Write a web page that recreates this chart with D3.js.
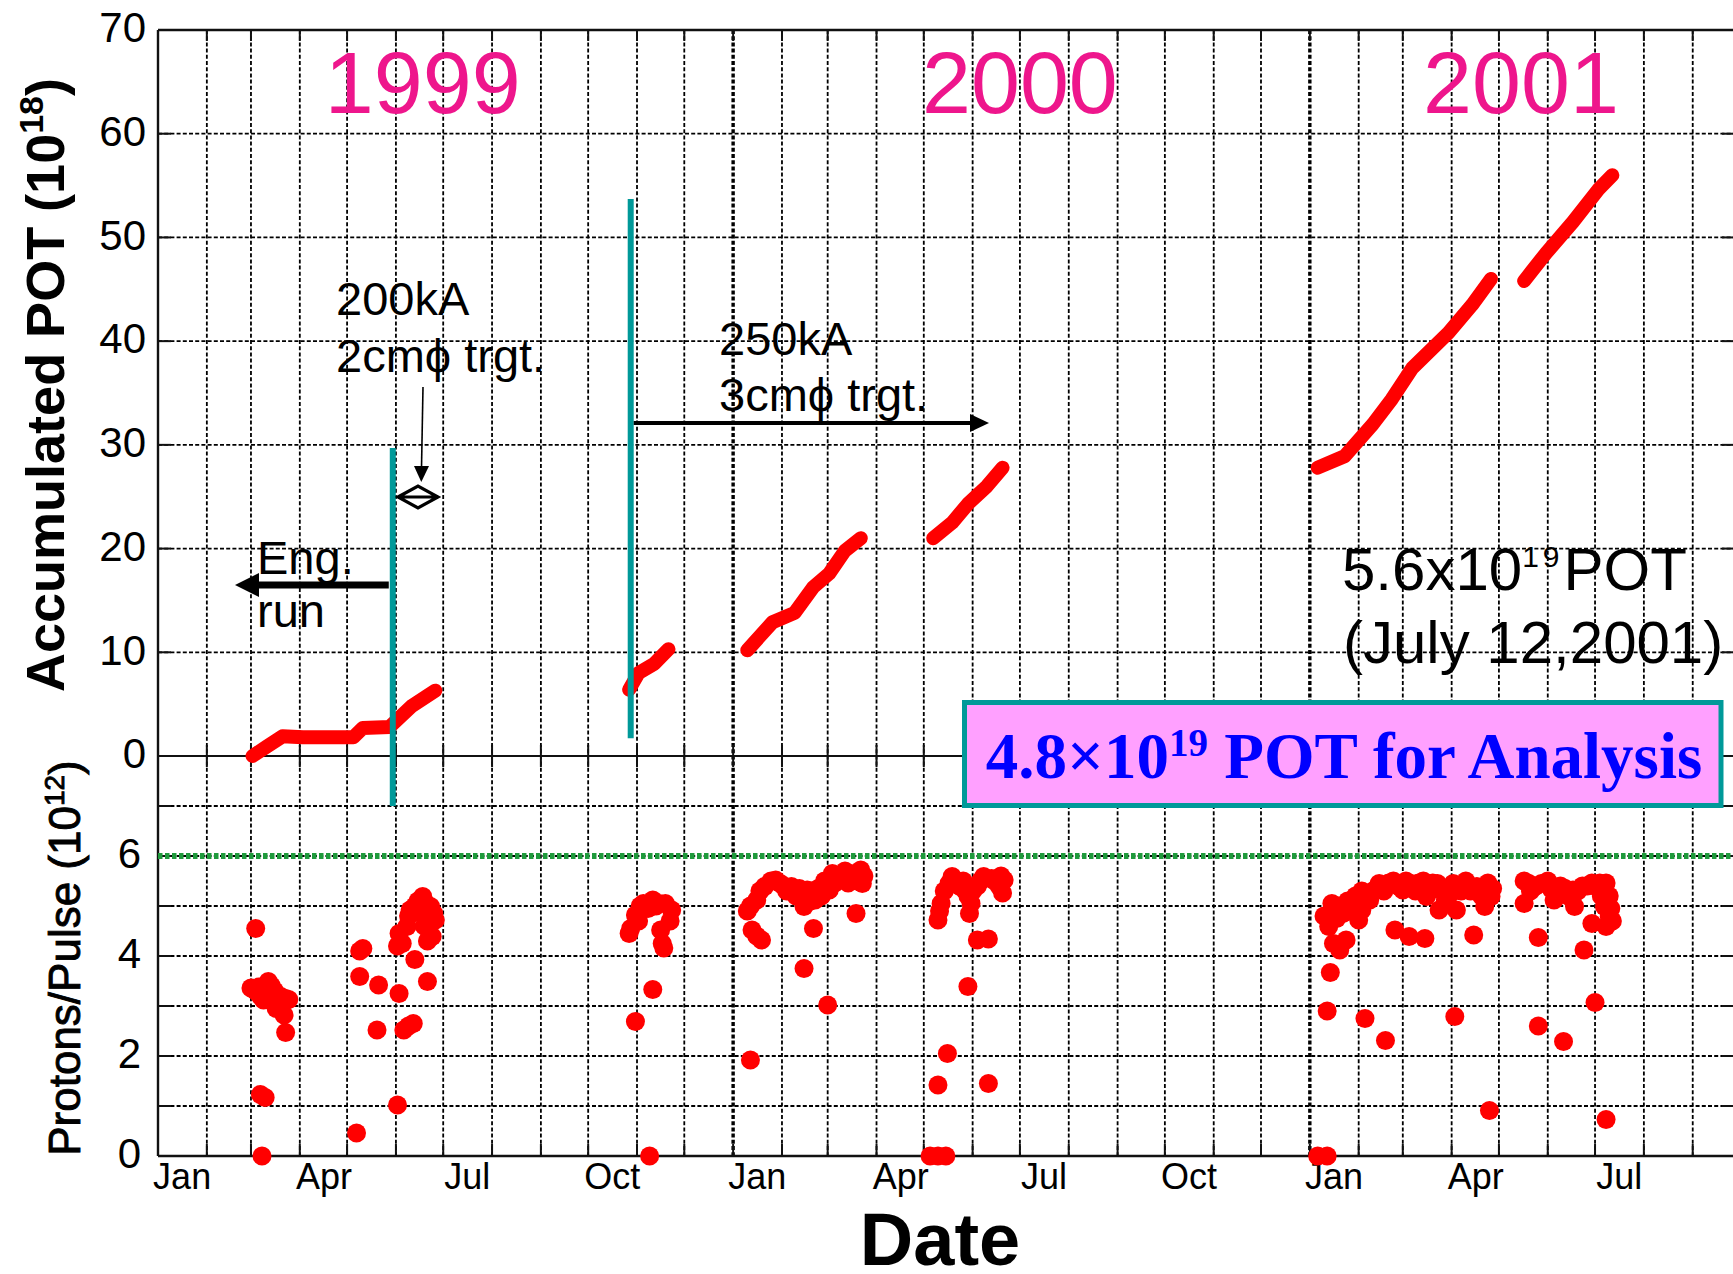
<!DOCTYPE html>
<html>
<head>
<meta charset="utf-8">
<script src="https://cdn.jsdelivr.net/npm/d3@7"></script>
<style>
  body { margin: 0; background: #fff; }
  svg { display: block; }
</style>
</head>
<body>
<svg id="chart" width="1733" height="1274"></svg>
<script>
// ---- Accumulated protons on target (10^18), one array per beam period ----
const potRun1999a = [
  ["1999-03-02", 0.0], ["1999-03-11", 0.9], ["1999-03-21", 1.9], ["1999-04-03", 1.8],
  ["1999-04-20", 1.8], ["1999-05-05", 1.8], ["1999-05-11", 2.7], ["1999-05-28", 2.8],
  ["1999-06-11", 4.8], ["1999-06-26", 6.3]
];
const potRun1999b = [
  ["1999-10-27", 6.4], ["1999-11-02", 8.0], ["1999-11-12", 8.9], ["1999-11-21", 10.3]
];
const potRun2000a = [
  ["2000-01-10", 10.2], ["2000-01-26", 12.9], ["2000-02-09", 13.8], ["2000-02-21", 16.3],
  ["2000-03-02", 17.6], ["2000-03-12", 19.8], ["2000-03-22", 21.0]
];
const potRun2000b = [
  ["2000-05-07", 21.0], ["2000-05-19", 22.5], ["2000-05-29", 24.3], ["2000-06-10", 26.0],
  ["2000-06-20", 27.8]
];
const potRun2001a = [
  ["2001-01-06", 27.8], ["2001-01-23", 28.9], ["2001-02-10", 32.0], ["2001-02-22", 34.4],
  ["2001-03-07", 37.4], ["2001-03-30", 40.8], ["2001-04-14", 43.5], ["2001-04-26", 46.0]
];
const potRun2001b = [
  ["2001-05-17", 45.8], ["2001-05-31", 48.5], ["2001-06-17", 51.5], ["2001-07-03", 54.6],
  ["2001-07-12", 56.0]
];

// ---- Protons per pulse (10^12) ----
const pulsesSpring1999 = [
  ["1999-03-04", 4.55], ["1999-03-08", 0.0], ["1999-03-07", 1.23], ["1999-03-10", 1.17],
  ["1999-03-01", 3.36], ["1999-03-06", 3.38], ["1999-03-12", 3.49], ["1999-03-11", 3.25],
  ["1999-03-07", 3.2], ["1999-03-09", 3.12], ["1999-03-16", 3.3], ["1999-03-20", 3.19],
  ["1999-03-23", 3.15], ["1999-03-25", 3.13], ["1999-03-19", 3.0], ["1999-03-17", 2.95],
  ["1999-03-22", 2.82], ["1999-03-23", 2.47], ["1999-03-14", 3.4], ["1999-03-04", 3.3],
  ["1999-05-09", 4.1], ["1999-05-11", 4.15], ["1999-05-09", 3.59], ["1999-05-21", 3.42],
  ["1999-05-07", 0.46], ["1999-05-20", 2.52], ["1999-06-03", 3.25], ["1999-06-02", 1.02],
  ["1999-06-06", 2.52], ["1999-06-09", 2.6], ["1999-06-12", 2.65], ["1999-06-13", 3.93],
  ["1999-06-21", 3.49],
  ["1999-06-02", 4.2], ["1999-06-03", 4.45], ["1999-06-05", 4.25], ["1999-06-08", 4.59],
  ["1999-06-09", 4.8], ["1999-06-10", 4.92], ["1999-06-13", 5.0], ["1999-06-16", 4.87],
  ["1999-06-18", 5.19], ["1999-06-19", 4.6], ["1999-06-21", 4.3], ["1999-06-23", 4.99],
  ["1999-06-24", 4.39], ["1999-06-26", 4.72], ["1999-06-25", 4.85], ["1999-06-15", 5.1],
  ["1999-06-20", 5.05]
];
const pulsesFall1999 = [
  ["1999-10-28", 4.55], ["1999-10-27", 4.45], ["1999-10-31", 4.82], ["1999-11-02", 4.7],
  ["1999-11-05", 5.05], ["1999-11-08", 4.95], ["1999-11-11", 5.12], ["1999-11-15", 5.05],
  ["1999-11-19", 5.05], ["1999-11-23", 4.92], ["1999-11-22", 4.7], ["1999-11-16", 4.52],
  ["1999-11-17", 4.25], ["1999-11-18", 4.16], ["1999-11-11", 3.33], ["1999-10-31", 2.69],
  ["1999-11-09", 0.0], ["1999-11-03", 5.0], ["1999-11-13", 5.0]
];
const pulses2000 = [
  ["2000-01-12", 1.92], ["2000-01-13", 4.52], ["2000-01-16", 4.4], ["2000-01-19", 4.32],
  ["2000-01-12", 5.0], ["2000-01-16", 5.12], ["2000-01-21", 5.39], ["2000-01-25", 5.5],
  ["2000-01-28", 5.52], ["2000-02-02", 5.4], ["2000-02-07", 5.39], ["2000-02-12", 5.35],
  ["2000-02-17", 5.32], ["2000-02-15", 4.99], ["2000-02-19", 5.1], ["2000-02-22", 5.12],
  ["2000-02-26", 5.2], ["2000-03-02", 5.32], ["2000-03-05", 5.45], ["2000-03-09", 5.59],
  ["2000-03-14", 5.46], ["2000-03-18", 5.65], ["2000-03-22", 5.72], ["2000-03-24", 5.6],
  ["2000-03-19", 4.85], ["2000-02-21", 4.55], ["2000-02-15", 3.75], ["2000-03-01", 3.02],
  ["2000-01-10", 4.9], ["2000-01-18", 5.3], ["2000-01-31", 5.45], ["2000-02-04", 5.3],
  ["2000-02-10", 5.2], ["2000-02-14", 5.2], ["2000-02-20", 5.3], ["2000-02-24", 5.35],
  ["2000-02-28", 5.5], ["2000-03-04", 5.65], ["2000-03-07", 5.5], ["2000-03-12", 5.7],
  ["2000-03-16", 5.55], ["2000-03-20", 5.5], ["2000-03-23", 5.45],
  ["2000-05-05", 0.0], ["2000-05-10", 0.0], ["2000-05-15", 0.0], ["2000-05-10", 1.42],
  ["2000-05-16", 2.05], ["2000-05-29", 3.39], ["2000-06-11", 1.45],
  ["2000-05-10", 4.72], ["2000-05-11", 4.9], ["2000-05-12", 5.05], ["2000-05-17", 5.45],
  ["2000-05-19", 5.59], ["2000-05-24", 5.39], ["2000-05-27", 5.32], ["2000-05-31", 5.05],
  ["2000-05-30", 4.85], ["2000-06-04", 5.4], ["2000-06-08", 5.59], ["2000-06-13", 5.55],
  ["2000-06-18", 5.39], ["2000-06-21", 5.52], ["2000-06-20", 5.26], ["2000-06-04", 4.32],
  ["2000-06-11", 4.34], ["2000-05-14", 5.3], ["2000-05-21", 5.5], ["2000-05-26", 5.5],
  ["2000-05-29", 5.2], ["2000-06-01", 5.3], ["2000-06-06", 5.5], ["2000-06-15", 5.5],
  ["2000-06-19", 5.6]
];
const pulses2001 = [
  ["2001-01-06", 0.0], ["2001-01-12", 0.0], ["2001-01-12", 2.9], ["2001-01-14", 3.67],
  ["2001-01-20", 4.12], ["2001-01-16", 4.25], ["2001-01-24", 4.32], ["2001-02-05", 2.75],
  ["2001-02-18", 2.31], ["2001-04-03", 2.79], ["2001-04-25", 0.91], ["2001-04-15", 4.42],
  ["2001-02-24", 4.52], ["2001-03-05", 4.39], ["2001-03-15", 4.35], ["2001-05-26", 4.37],
  ["2001-05-26", 2.6], ["2001-06-11", 2.29], ["2001-06-24", 4.12], ["2001-07-01", 3.07],
  ["2001-07-08", 0.73],
  ["2001-01-13", 4.59], ["2001-01-15", 5.05], ["2001-01-18", 4.75], ["2001-01-22", 4.85],
  ["2001-01-28", 4.99], ["2001-02-01", 4.72], ["2001-02-05", 5.19], ["2001-02-03", 4.92],
  ["2001-02-11", 5.32], ["2001-02-08", 5.12], ["2001-02-20", 5.46], ["2001-02-26", 5.4],
  ["2001-03-01", 5.32], ["2001-03-06", 5.45], ["2001-03-11", 5.46], ["2001-03-20", 5.46],
  ["2001-03-16", 5.19], ["2001-03-28", 5.12], ["2001-03-24", 4.92], ["2001-04-04", 4.92],
  ["2001-04-10", 5.5], ["2001-04-07", 5.3], ["2001-04-17", 5.39], ["2001-04-24", 5.46],
  ["2001-04-22", 4.99], ["2001-04-26", 5.19],
  ["2001-01-10", 4.8], ["2001-01-19", 5.0], ["2001-01-25", 5.1], ["2001-01-30", 5.2],
  ["2001-02-03", 5.3], ["2001-02-14", 5.45], ["2001-02-17", 5.3], ["2001-02-23", 5.5],
  ["2001-03-03", 5.5], ["2001-03-09", 5.3], ["2001-03-14", 5.5], ["2001-03-18", 5.3],
  ["2001-03-23", 5.45], ["2001-03-26", 5.3], ["2001-03-31", 5.25], ["2001-04-02", 5.45],
  ["2001-04-13", 5.3], ["2001-04-20", 5.2], ["2001-04-27", 5.35],
  ["2001-05-17", 5.5], ["2001-05-17", 5.05], ["2001-05-24", 5.39], ["2001-05-28", 5.45],
  ["2001-06-01", 5.5], ["2001-06-07", 5.26], ["2001-06-05", 5.12], ["2001-06-12", 5.35],
  ["2001-06-17", 5.32], ["2001-06-18", 4.99], ["2001-06-23", 5.4], ["2001-06-29", 5.46],
  ["2001-07-04", 5.46], ["2001-07-08", 5.46], ["2001-07-07", 4.99], ["2001-07-10", 4.79],
  ["2001-06-29", 4.65], ["2001-07-08", 4.59], ["2001-07-10", 5.2],
  ["2001-05-20", 5.45], ["2001-05-21", 5.3], ["2001-06-03", 5.35], ["2001-06-09", 5.4],
  ["2001-06-14", 5.2], ["2001-06-20", 5.3], ["2001-06-26", 5.4], ["2001-07-01", 5.4],
  ["2001-07-05", 5.2], ["2001-07-11", 4.95], ["2001-07-12", 4.7]
];

// ---- axis ticks and labels ----
const potTicks = [0, 10, 20, 30, 40, 50, 60, 70];
const pulseTicks = [0, 2, 4, 6];
const pulseGrid = [1, 2, 3, 4, 5, 6, 7];
const monthLabels = ["Jan", "Apr", "Jul", "Oct"];
const yearLabels = [["1999", "1999-06-18"], ["2000", "2000-07-01"], ["2001", "2001-05-15"]];
const designIntensity = 6;               // 10^12 protons/pulse
const horn200kA = "1999-05-30";          // horn current / target change
const horn250kA = "1999-10-28";

// ---------------------------------------------------------------
const parse = d3.utcParse("%Y-%m-%d");
const svg = d3.select("#chart");
const SANS = "'Liberation Sans', Arial, Helvetica, sans-serif";
const SERIF = "'Liberation Serif', 'Times New Roman', serif";

const plotLeft = 158, plotTop = 30, plotMid = 756, plotBottom = 1156, plotRight = 1740;

const x = d3.scaleUtc()
  .domain([parse("1999-01-01"), parse("2001-10-01")])
  .range([plotLeft, plotRight]);
const yPot = d3.scaleLinear().domain([0, 70]).range([plotMid, plotTop]);
const yPulse = d3.scaleLinear().domain([0, 8]).range([plotBottom, plotMid]);

// dotted grid
const months = d3.utcMonth.range(parse("1999-02-01"), parse("2001-10-01"));
const grid = svg.append("g").attr("stroke", "#000").attr("stroke-dasharray", "4,2.2");
grid.selectAll("line.v").data(months).join("line").attr("class", "v")
  .attr("x1", d => x(d)).attr("x2", d => x(d))
  .attr("y1", plotTop).attr("y2", plotBottom)
  .attr("stroke-width", d => d.getUTCMonth() === 0 ? 3.4 : 1.8);
grid.selectAll("line.hp").data(potTicks.filter(v => v > 0 && v < 70)).join("line").attr("class", "hp")
  .attr("x1", plotLeft).attr("x2", plotRight)
  .attr("y1", d => yPot(d)).attr("y2", d => yPot(d)).attr("stroke-width", 1.8);
grid.selectAll("line.hq").data(pulseGrid).join("line").attr("class", "hq")
  .attr("x1", plotLeft).attr("x2", plotRight)
  .attr("y1", d => yPulse(d)).attr("y2", d => yPulse(d)).attr("stroke-width", 1.8);

// frame and inward ticks
const frame = svg.append("g").attr("stroke", "#111").attr("fill", "none");
frame.append("line").attr("x1", plotLeft).attr("x2", plotRight).attr("y1", plotTop).attr("y2", plotTop).attr("stroke-width", 2.4);
frame.append("line").attr("x1", plotLeft).attr("x2", plotRight).attr("y1", plotMid).attr("y2", plotMid).attr("stroke-width", 2);
frame.append("line").attr("x1", plotLeft).attr("x2", plotRight).attr("y1", plotBottom).attr("y2", plotBottom).attr("stroke-width", 2.4);
frame.append("line").attr("x1", plotLeft).attr("x2", plotLeft).attr("y1", plotTop).attr("y2", plotBottom).attr("stroke-width", 2.4);
frame.append("line").attr("x1", plotRight).attr("x2", plotRight).attr("y1", plotTop).attr("y2", plotBottom).attr("stroke-width", 2.4);

const tickG = svg.append("g").attr("stroke", "#111").attr("stroke-width", 2);
months.forEach(m => {
  const xm = x(m);
  tickG.append("line").attr("x1", xm).attr("x2", xm).attr("y1", plotTop).attr("y2", plotTop + 11);
  tickG.append("line").attr("x1", xm).attr("x2", xm).attr("y1", plotMid - 11).attr("y2", plotMid + 11);
  tickG.append("line").attr("x1", xm).attr("x2", xm).attr("y1", plotBottom - 12).attr("y2", plotBottom);
});
const hTickYs = potTicks.map(v => yPot(v)).concat(pulseGrid.map(v => yPulse(v)));
hTickYs.forEach(yy => {
  tickG.append("line").attr("x1", plotLeft).attr("x2", plotLeft + 13).attr("y1", yy).attr("y2", yy);
  tickG.append("line").attr("x1", plotRight - 18).attr("x2", plotRight).attr("y1", yy).attr("y2", yy);
});

// axis labels
function styleAxis(g) {
  g.select(".domain").remove();
  g.attr("font-family", SANS).attr("font-size", 42);
  g.selectAll("text").attr("fill", "#000");
}
svg.append("g").attr("transform", `translate(${plotLeft},0)`)
  .call(d3.axisLeft(yPot).tickValues(potTicks).tickSize(0).tickPadding(12).tickFormat(d3.format("d")))
  .call(styleAxis)
  .selectAll("text").attr("dy", "0.28em");
svg.append("g").attr("transform", `translate(${plotLeft},0)`)
  .call(d3.axisLeft(yPulse).tickValues(pulseTicks).tickSize(0).tickPadding(17).tickFormat(d3.format("d")))
  .call(styleAxis)
  .selectAll("text").attr("dy", "0.28em");

const labelDates = d3.utcMonth.range(parse("1999-01-01"), parse("2001-08-01"), 3)
  .map(d => d3.utcDay.offset(d, 15));
svg.append("g").attr("transform", `translate(0,${plotBottom})`)
  .call(d3.axisBottom(x).tickValues(labelDates).tickSize(0)
    .tickFormat(d => monthLabels[Math.floor(d.getUTCMonth() / 3)]))
  .call(styleAxis)
  .call(g => g.attr("font-size", 36))
  .selectAll("text").attr("y", 33).attr("dy", 0);

// axis titles
svg.append("text")
  .attr("transform", "translate(64,385) rotate(-90)")
  .attr("text-anchor", "middle").attr("font-family", SANS)
  .attr("font-weight", "bold").attr("font-size", 54)
  .call(t => {
    t.append("tspan").text("Accumulated POT (10");
    t.append("tspan").attr("dy", -21).attr("font-size", 34).text("18");
    t.append("tspan").attr("dy", 21).text(")");
  });
svg.append("text")
  .attr("transform", "translate(80,958) rotate(-90)")
  .attr("text-anchor", "middle").attr("font-family", SANS)
  .attr("font-size", 44).attr("stroke", "#000").attr("stroke-width", 0.9)
  .call(t => {
    t.append("tspan").text("Protons/Pulse (10");
    t.append("tspan").attr("dy", -16).attr("font-size", 28).text("12");
    t.append("tspan").attr("dy", 16).text(")");
  });
svg.append("text").attr("x", 940).attr("y", 1265)
  .attr("text-anchor", "middle").attr("font-family", SANS)
  .attr("font-weight", "bold").attr("font-size", 74).text("Date");

// year labels
svg.append("g").selectAll("text").data(yearLabels).join("text")
  .attr("x", d => x(parse(d[1]))).attr("y", 113)
  .attr("text-anchor", "middle").attr("font-family", SANS)
  .attr("font-size", 88).attr("fill", "#ee168c").text(d => d[0]);

// design intensity level
svg.append("line")
  .attr("x1", plotLeft).attr("x2", plotRight)
  .attr("y1", yPulse(designIntensity)).attr("y2", yPulse(designIntensity))
  .attr("stroke", "#1f9a3c").attr("stroke-width", 6).attr("stroke-dasharray", "4.5,2.5");

// accumulated POT curves
const potLine = d3.line().x(d => x(parse(d[0]))).y(d => yPot(d[1]));
svg.append("g").attr("fill", "none").attr("stroke", "#ff0000")
  .attr("stroke-width", 14).attr("stroke-linecap", "round").attr("stroke-linejoin", "round")
  .selectAll("path")
  .data([potRun1999a, potRun1999b, potRun2000a, potRun2000b, potRun2001a, potRun2001b])
  .join("path").attr("d", potLine);

// protons per pulse
const pulses = [].concat(pulsesSpring1999, pulsesFall1999, pulses2000, pulses2001);
svg.append("g").attr("fill", "#ff0000")
  .selectAll("circle").data(pulses).join("circle")
  .attr("cx", d => x(parse(d[0]))).attr("cy", d => yPulse(d[1])).attr("r", 9.5);

// horn current change markers
svg.append("line")
  .attr("x1", x(parse(horn200kA))).attr("x2", x(parse(horn200kA)))
  .attr("y1", yPot(29.7)).attr("y2", yPulse(7))
  .attr("stroke", "#009999").attr("stroke-width", 6);
svg.append("line")
  .attr("x1", x(parse(horn250kA))).attr("x2", x(parse(horn250kA)))
  .attr("y1", yPot(53.7)).attr("y2", yPot(1.7))
  .attr("stroke", "#009999").attr("stroke-width", 6);

// annotations
const ann = svg.append("g").attr("font-family", SANS).attr("font-size", 47).attr("fill", "#000");
ann.append("text").attr("x", 336).attr("y", 315).text("200kA");
ann.append("text").attr("x", 336).attr("y", 372).text("2cmϕ trgt.");
ann.append("text").attr("x", 719).attr("y", 355).text("250kA");
ann.append("text").attr("x", 719).attr("y", 411).text("3cmϕ trgt.");
ann.append("text").attr("x", 257).attr("y", 574).text("Eng.");
ann.append("text").attr("x", 257).attr("y", 627).text("run");

// thin arrow down to the 2cm-target period
ann.append("line").attr("x1", 423).attr("y1", 387).attr("x2", 421.5).attr("y2", 468)
  .attr("stroke", "#000").attr("stroke-width", 1.6);
ann.append("path").attr("d", "M414,466 L429,466 L421.3,482 Z").attr("fill", "#000");
// open double-headed marker
ann.append("path").attr("d", "M398,497 L418,486 L438,497 L418,508 Z M398,497 L438,497")
  .attr("fill", "none").attr("stroke", "#000").attr("stroke-width", 3.2);

// engineering-run arrow (pointing left)
const hx1 = x(parse(horn200kA)) - 4;
ann.append("line").attr("x1", hx1).attr("y1", 585).attr("x2", 255).attr("y2", 585)
  .attr("stroke", "#000").attr("stroke-width", 7);
ann.append("path").attr("d", "M235,585 L259,573 L259,597 Z").attr("fill", "#000");

// 250kA period arrow (pointing right)
const hx2 = x(parse(horn250kA)) + 3;
ann.append("line").attr("x1", hx2).attr("y1", 423).attr("x2", 972).attr("y2", 423)
  .attr("stroke", "#000").attr("stroke-width", 4);
ann.append("path").attr("d", "M989,423 L970,414 L970,432 Z").attr("fill", "#000");

// total delivered
const tot = svg.append("g").attr("font-family", SANS).attr("font-size", 60).attr("fill", "#000");
tot.append("text").attr("x", 1342).attr("y", 590).call(t => {
  t.append("tspan").text("5.6x10");
  t.append("tspan").attr("dy", -23).attr("font-size", 30).attr("letter-spacing", 4).text("19");
  t.append("tspan").attr("dy", 23).text("POT");
});
tot.append("text").attr("x", 1343).attr("y", 663).text("(July 12,2001)");

// analysed POT box
svg.append("rect").attr("x", 964.5).attr("y", 702.5).attr("width", 756.5).attr("height", 103)
  .attr("fill", "#ffa0ff").attr("stroke", "#009999").attr("stroke-width", 5);
svg.append("text").attr("x", 1344).attr("y", 778).attr("text-anchor", "middle")
  .attr("font-family", SERIF).attr("font-weight", "bold").attr("font-size", 65).attr("fill", "#0000ff")
  .call(t => {
    t.append("tspan").text("4.8×10");
    t.append("tspan").attr("dy", -22).attr("font-size", 39).text("19");
    t.append("tspan").attr("dy", 22).text(" POT for Analysis");
  });
</script>
</body>
</html>
